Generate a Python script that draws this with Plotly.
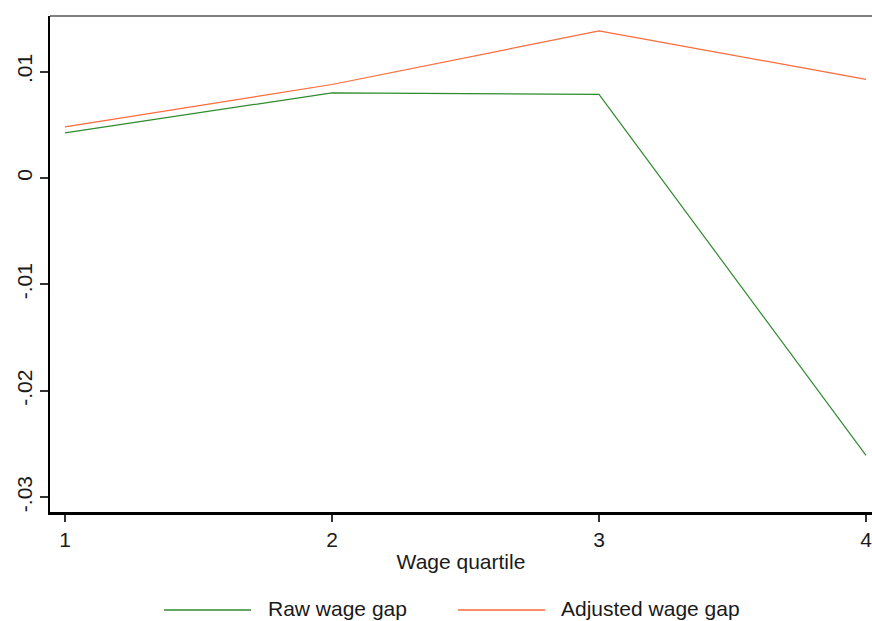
import plotly.graph_objects as go

quartiles = [1, 2, 3, 4]
raw_gap = [0.00424, 0.0080, 0.00785, -0.02607]
adjusted_gap = [0.0048, 0.00878, 0.01382, 0.00927]
y_ticks = [-0.03, -0.02, -0.01, 0, 0.01]
y_tick_labels = ["-.03", "-.02", "-.01", "0", ".01"]
x_ticks = [1, 2, 3, 4]

GREEN = "#2e8b2e"
ORANGE = "#ff6a3a"
FONT = "Liberation Sans, Arial, sans-serif"

W, H = 872, 621
L, T, R, B = 50, 16, 0, 109
pw, ph = W - L - R, H - T - B

def px_x(px):
    return (px - L) / pw

def px_y(py):
    return (H - B - py) / ph

fig = go.Figure()
fig.add_trace(go.Scatter(x=quartiles, y=raw_gap, mode="lines",
                         line=dict(color=GREEN, width=1.2), name="Raw wage gap"))
fig.add_trace(go.Scatter(x=quartiles, y=adjusted_gap, mode="lines",
                         line=dict(color=ORANGE, width=1.2), name="Adjusted wage gap"))

# frame top line
fig.add_shape(type="line", xref="paper", yref="paper", x0=0, x1=1, y0=1, y1=1,
              line=dict(color="#555555", width=1.5))

# manual legend
legend_items = [("Raw wage gap", GREEN, 164, 251, 266),
                ("Adjusted wage gap", ORANGE, 458, 545, 559)]
for name, col, x0, x1, xt in legend_items:
    fig.add_shape(type="line", xref="paper", yref="paper",
                  x0=px_x(x0), x1=px_x(x1), y0=px_y(610), y1=px_y(610),
                  line=dict(color=col, width=1.5))
    fig.add_annotation(xref="paper", yref="paper", x=px_x(xt), y=px_y(608),
                       text=name, showarrow=False, xanchor="left", yanchor="middle",
                       font=dict(size=21, color="#1a1a1a", family=FONT))

fig.update_layout(
    width=W, height=H,
    margin=dict(l=L, r=R, t=T, b=B, autoexpand=False),
    plot_bgcolor="white", paper_bgcolor="white",
    showlegend=False,
    font=dict(family=FONT, size=21, color="#1a1a1a"),
    xaxis=dict(range=[1 - 15 / 267, 4 + 6 / 267], tickvals=x_ticks,
               ticktext=[str(v) for v in x_ticks], automargin=False,
               ticklabeloverflow="allow",
               showgrid=False, zeroline=False, showline=True,
               linecolor="black", linewidth=2.5,
               ticks="outside", ticklen=7, tickcolor="#333333", tickwidth=1.5,
               tickfont=dict(size=21, family=FONT, color="#1a1a1a"),
               title=dict(text="Wage quartile", standoff=5,
                          font=dict(size=21, family=FONT, color="#1a1a1a"))),
    yaxis=dict(range=[-0.03139, 0.01522], tickvals=y_ticks, ticktext=y_tick_labels,
               automargin=False, ticklabeloverflow="allow",
               showgrid=False, zeroline=False, showline=True,
               linecolor="black", linewidth=2,
               ticks="outside", ticklen=8, tickcolor="#333333", tickwidth=1.5,
               tickangle=-90,
               tickfont=dict(size=21, family=FONT, color="#1a1a1a")),
)

fig.write_html("out.html", config={"displayModeBar": False},
               post_script="document.body.style.margin='0';document.body.style.overflow='hidden';")
